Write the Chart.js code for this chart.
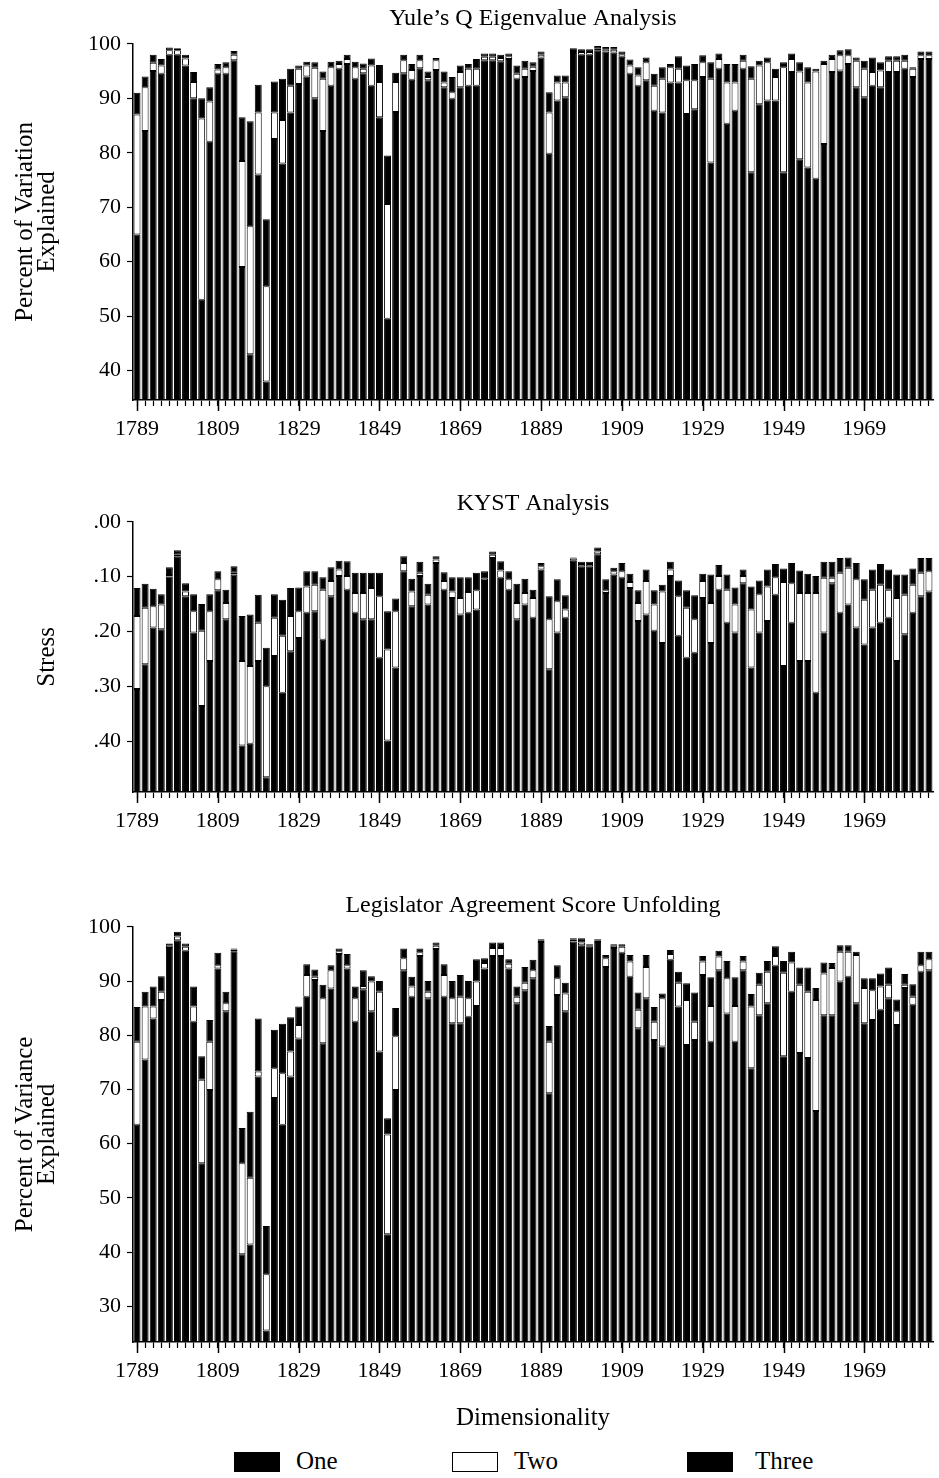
<!DOCTYPE html>
<html>
<head>
<meta charset="utf-8">
<title>Dimensionality by Congress</title>
<script src="https://cdn.jsdelivr.net/npm/chart.js@4.4.0/dist/chart.umd.min.js"></script>
<style>
  body { margin: 0; background: #fff; width: 939px; height: 1478px; position: relative; overflow: hidden;
         font-family: "Liberation Serif", serif; color: #000; }
  canvas { position: absolute; left: 0; }
  #yule { top: 0; }
  #kyst { top: 470px; }
  #las  { top: 880px; }
  .key { position: absolute; top: 1452px; width: 46px; height: 20px; box-sizing: border-box; }
  .lbl { position: absolute; top: 1446px; font-size: 25px; line-height: 30px; }
</style>
</head>
<body>
<canvas id="yule" width="939" height="450"></canvas>
<canvas id="kyst" width="939" height="372"></canvas>
<canvas id="las" width="939" height="560"></canvas>

<div class="key" style="left:234px;background:#000"></div>
<div class="lbl" style="left:296px">One</div>
<div class="key" style="left:452px;background:#fff;border:1.5px solid #000"></div>
<div class="lbl" style="left:514px">Two</div>
<div class="key" style="left:687px;background:#000"></div>
<div class="lbl" style="left:755px">Three</div>

<script>
// congresses, first year of each
const years = [
  1789, 1791, 1793, 1795, 1797, 1799, 1801, 1803, 1805, 1807,
  1809, 1811, 1813, 1815, 1817, 1819, 1821, 1823, 1825, 1827,
  1829, 1831, 1833, 1835, 1837, 1839, 1841, 1843, 1845, 1847,
  1849, 1851, 1853, 1855, 1857, 1859, 1861, 1863, 1865, 1867,
  1869, 1871, 1873, 1875, 1877, 1879, 1881, 1883, 1885, 1887,
  1889, 1891, 1893, 1895, 1897, 1899, 1901, 1903, 1905, 1907,
  1909, 1911, 1913, 1915, 1917, 1919, 1921, 1923, 1925, 1927,
  1929, 1931, 1933, 1935, 1937, 1939, 1941, 1943, 1945, 1947,
  1949, 1951, 1953, 1955, 1957, 1959, 1961, 1963, 1965, 1967,
  1969, 1971, 1973, 1975, 1977, 1979, 1981, 1983, 1985
];
const yearLabels = [1789, 1809, 1829, 1849, 1869, 1889, 1909, 1929, 1949, 1969];

// Yule's Q eigenvalue analysis, % of variation explained (cumulative)
const yuleOne = [
  65, 84, 95, 94.5, 98, 98, 96, 90, 53, 82,
  94.5, 94.5, 97, 59, 43, 76, 38, 82.5, 78, 87.4,
  92.6, 94, 90, 84, 92.3, 95.4, 96.3, 93.6, 94.6, 92.3,
  86.5, 49.5, 87.5, 94.6, 93.4, 95.5, 93.3, 95.2, 92, 89.9,
  92, 92.3, 92.3, 97, 97, 96.8, 97.2, 93.6, 93.9, 95,
  97.5, 79.8, 89.6, 90.2, 98.3, 98, 98, 98.8, 98.6, 98.4,
  97.6, 94.5, 92.3, 93.3, 87.7, 87.4, 92.9, 92.9, 87.1, 88,
  93.9, 78.2, 95.4, 85.3, 87.7, 95.4, 76.4, 88.9, 89.6, 89.6,
  76.4, 94.8, 78.8, 77.3, 75.2, 81.6, 94.8, 95.1, 96.3, 92,
  90.2, 92.3, 92, 94.8, 94.8, 95.4, 93.9, 97.2, 97.2
];
const yuleTwo = [
  87, 92, 96.5, 96, 98.8, 98.8, 97.3, 93, 86.3, 89.4,
  95.3, 95.7, 98, 78.5, 66.5, 87.4, 55.5, 87.4, 86, 92.3,
  95.4, 96, 95.6, 93.6, 95.7, 96.3, 97.2, 95.7, 95.4, 96,
  93, 70.6, 93, 97, 95.2, 97, 93.9, 97, 92.9, 91.1,
  94.8, 95.4, 95.4, 97.6, 97.6, 97.4, 97.7, 94.5, 95.4, 95.8,
  98, 87.4, 92.9, 92.9, 98.7, 98.5, 98.5, 99.2, 99, 98.9,
  98.1, 96, 94.2, 96.6, 92.3, 93.6, 95.7, 95.4, 93.3, 93.3,
  96.6, 93.6, 97.2, 92.9, 92.9, 96.9, 93.6, 96, 96.6, 93.9,
  95.7, 97.2, 94.9, 92.9, 94.9, 96.3, 97.2, 97.9, 97.9, 96.9,
  95.4, 94.8, 95.1, 96.9, 96.9, 96.9, 95.4, 97.9, 97.9
];
const yuleThree = [
  91, 94, 98, 97.2, 99.3, 99.2, 98, 94.8, 90, 92,
  96.3, 96.6, 98.7, 86.5, 85.8, 92.5, 67.8, 93.1, 93.6, 95.4,
  96, 96.7, 96.6, 94.9, 96.7, 96.9, 98, 96.7, 96.4, 97.3,
  96.1, 79.5, 94.7, 98, 96.3, 98, 94.9, 97.4, 94.9, 93.9,
  96, 96.3, 97.2, 98.2, 98.2, 98, 98.2, 96, 96.9, 96.6,
  98.6, 91.1, 94.2, 94.2, 99.2, 99, 99, 99.6, 99.4, 99.4,
  98.6, 97.1, 95.7, 97.5, 94.5, 95.7, 96.3, 97.7, 96, 96.3,
  97.9, 96.6, 98.2, 96.3, 96.3, 98, 95.9, 96.9, 97.5, 95.4,
  96.6, 98.2, 96.6, 95.7, 95.4, 96.9, 98, 98.8, 99, 97.5,
  96.9, 97.5, 96.6, 97.7, 97.7, 98, 95.7, 98.6, 98.6
];
const yuleTicks = [40, 50, 60, 70, 80, 90, 100];

// KYST analysis, stress
const kystOne = [
  .305, .26, .193, .196, .10, .063, .136, .202, .336, .254,
  .125, .178, .096, .408, .405, .254, .466, .245, .312, .236,
  .212, .166, .163, .215, .136, .099, .124, .166, .178, .178,
  .248, .399, .266, .09, .154, .099, .151, .075, .124, .139,
  .169, .166, .16, .108, .066, .102, .124, .178, .151, .175,
  .087, .269, .202, .175, .071, .081, .081, .059, .13, .096,
  .102, .121, .181, .169, .199, .221, .099, .208, .248, .239,
  .139, .221, .124, .184, .202, .112, .266, .202, .181, .133,
  .263, .184, .254, .254, .312, .202, .112, .166, .151, .193,
  .224, .193, .184, .175, .254, .205, .166, .136, .127
];
const kystTwo = [
  .172, .157, .154, .151, .097, .06, .127, .163, .199, .163,
  .105, .148, .093, .254, .263, .184, .30, .175, .208, .172,
  .163, .118, .115, .124, .108, .087, .099, .13, .13, .121,
  .136, .233, .163, .075, .127, .093, .133, .069, .108, .127,
  .139, .128, .125, .104, .06, .089, .105, .148, .13, .139,
  .081, .178, .145, .16, .067, .077, .077, .054, .125, .09,
  .09, .11, .148, .108, .151, .127, .087, .136, .157, .178,
  .108, .148, .099, .124, .151, .099, .16, .132, .118, .101,
  .11, .112, .13, .13, .13, .102, .102, .093, .084, .105,
  .142, .124, .115, .124, .139, .133, .115, .093, .09
];
const kystThree = [
  .121, .113, .122, .132, .083, .052, .112, .132, .15, .132,
  .09, .124, .081, .172, .169, .133, .23, .132, .142, .121,
  .12, .09, .09, .101, .083, .071, .072, .093, .093, .093,
  .093, .163, .14, .063, .104, .073, .113, .063, .092, .101,
  .101, .101, .093, .09, .054, .072, .09, .113, .104, .124,
  .075, .136, .105, .134, .065, .073, .073, .047, .105, .084,
  .075, .095, .125, .087, .125, .115, .073, .107, .125, .134,
  .095, .096, .079, .096, .12, .087, .118, .107, .087, .077,
  .085, .075, .089, .095, .099, .073, .073, .066, .065, .075,
  .105, .087, .077, .087, .096, .096, .085, .066, .066
];
const kystTicks = [0, .1, .2, .3, .4];

// Legislator agreement score unfolding, % of variance explained
const lasOne = [
  63.5, 75.5, 83.1, 86.5, 96.1, 97.5, 95.6, 82.5, 56.4, 69.9,
  92.3, 84.4, 95.5, 39.6, 41.4, 72.4, 25.5, 68.4, 63.5, 72.4,
  79.4, 87.1, 90.2, 78.5, 88.6, 95, 92.3, 82.5, 88.5, 84.4,
  77, 43.3, 69.9, 92, 87.1, 94.6, 86.8, 95.9, 87.1, 82.2,
  82.2, 83.4, 85.4, 92.3, 94.6, 94.6, 92.3, 85.9, 88.3, 90.5,
  97.2, 69.3, 87.4, 84.4, 97.3, 96.6, 96.3, 97.2, 92.6, 96.1,
  95.2, 90.8, 81.3, 86.8, 79.1, 77.9, 93.9, 85.3, 78.2, 79.1,
  91.1, 78.8, 92, 84, 78.8, 92, 73.9, 83.7, 85.9, 92.8,
  76.1, 88, 76.7, 75.8, 66, 83.7, 83.7, 89.9, 90.8, 85.9,
  82.2, 82.8, 84.7, 86.8, 81.9, 88.7, 85.6, 91.7, 92
];
const lasTwo = [
  78.8, 85.3, 85.3, 88, 96.5, 98.2, 96.3, 85.3, 71.8, 78.8,
  92.9, 85.9, 95.8, 56.4, 53.7, 73.3, 35.9, 73.9, 73, 77,
  81.9, 91.1, 90.8, 86.8, 92, 95.5, 92.9, 86.8, 89.1, 89.9,
  88, 61.7, 79.8, 94.2, 89, 95.3, 88, 96.5, 91.1, 86.8,
  87.1, 86.8, 89.9, 93.3, 96.1, 96.1, 93.2, 87.1, 89.7, 92,
  97.5, 78.8, 90.5, 87.7, 97.6, 97.1, 96.6, 97.5, 94.2, 96.5,
  96.3, 93.6, 84.7, 92.6, 82.5, 86.8, 95, 89.7, 86.5, 82.5,
  93.6, 85.4, 94.5, 90.5, 85.4, 93.6, 85.3, 89.3, 91.7, 94.6,
  91.5, 93.4, 89.3, 88, 86.5, 91.4, 92.4, 95.4, 95.4, 94.8,
  88.7, 88.3, 89, 89.3, 84.4, 89.3, 87.1, 92.9, 94
];
const lasThree = [
  85.2, 88, 89, 90.9, 96.9, 99.1, 96.9, 89, 76.1, 82.8,
  95.2, 88, 96, 62.9, 65.9, 83.1, 44.8, 81, 82.1, 83.3,
  85.3, 93.1, 92.1, 89.3, 92.9, 96, 95, 89, 92, 90.9,
  90, 64.7, 85, 96, 90.8, 96, 90, 97.1, 93.1, 90,
  91.1, 90, 94, 94.2, 97.1, 97.1, 94, 89, 92.6, 93.9,
  97.7, 81.7, 92.9, 89.7, 97.9, 97.9, 96.8, 97.7, 94.8, 96.8,
  96.8, 94.8, 87.9, 94.8, 85.2, 87.7, 95.7, 91.7, 89.6, 87.9,
  94.6, 90.7, 95.6, 93.7, 90.7, 94.6, 87.6, 91.5, 93.7, 96.4,
  93.7, 95.4, 92.5, 92.5, 88.7, 93.4, 93.3, 96.6, 96.6, 95.4,
  90.5, 90.5, 91.4, 92.5, 86.6, 91.3, 89.4, 95.4, 95.4
];
const lasTicks = [30, 40, 50, 60, 70, 80, 90, 100];

const SERIF = "'Liberation Serif', 'Times New Roman', serif";

// longer tick marks under the labelled years
const majorTicks = {
  id: "majorTicks",
  afterDraw(chart) {
    const x = chart.scales.x;
    const c = chart.ctx;
    c.save();
    c.strokeStyle = "#000";
    c.lineWidth = 1.5;
    yearLabels.forEach((yr) => {
      const px = Math.round(x.getPixelForValue(yr)) + 0.5;
      c.beginPath();
      c.moveTo(px, x.top);
      c.lineTo(px, x.top + 11);
      c.stroke();
    });
    c.restore();
  }
};

function segment(label, lo, hi, color, base) {
  return {
    label,
    grouped: false,
    data: years.map((yr, i) => ({ x: yr, y: [lo ? lo[i] : base, hi[i]] })),
    backgroundColor: color,
    borderColor: "#000",
    borderWidth: 1,
    borderSkipped: false,
    barPercentage: 0.86,
    categoryPercentage: 1
  };
}

function makePanel(id, opt) {
  return new Chart(document.getElementById(id), {
    type: "bar",
    data: {
      datasets: [
        segment("One", null, opt.one, "#000", opt.base),
        segment("Two", opt.one, opt.two, "#fff"),
        segment("Three", opt.two, opt.three, "#000")
      ]
    },
    options: {
      responsive: false,
      animation: false,
      layout: { padding: { left: 0, right: 1, top: 0, bottom: 0 } },
      plugins: {
        legend: { display: false },
        tooltip: { enabled: false },
        title: {
          display: true,
          text: opt.title,
          fullSize: false,
          color: "#000",
          font: { family: SERIF, size: 24, weight: "normal" },
          padding: opt.titlePad
        }
      },
      scales: {
        x: {
          type: "linear",
          min: 1788,
          max: 1986,
          offset: false,
          afterFit: (s) => { s.height = opt.xHeight; },
          afterBuildTicks: (s) => { s.ticks = years.map((v) => ({ value: v })); },
          grid: { display: true, drawOnChartArea: false, offset: false, tickLength: 6, tickWidth: 1.2, tickColor: "#000" },
          border: { display: true, color: "#000", width: 1.5 },
          ticks: {
            autoSkip: false,
            maxRotation: 0,
            padding: 10,
            color: "#000",
            font: { family: SERIF, size: 22 },
            callback: (v) => (yearLabels.includes(v) ? String(v) : "")
          },
          title: opt.xTitle
            ? { display: true, text: opt.xTitle, color: "#000", font: { family: SERIF, size: 25 }, padding: { top: 0, bottom: 7 } }
            : { display: false }
        },
        y: {
          min: opt.min,
          max: opt.max,
          reverse: !!opt.reverse,
          afterFit: (s) => { s.width = 133; },
          afterBuildTicks: (s) => { s.ticks = opt.ticks.map((v) => ({ value: v })); },
          grid: { display: true, drawOnChartArea: false, tickLength: 6, tickWidth: 1.2, tickColor: "#000" },
          border: { display: true, color: "#000", width: 1.5 },
          ticks: {
            padding: 6,
            color: "#000",
            font: { family: SERIF, size: 22 },
            callback: opt.fmt
          },
          title: {
            display: true,
            text: opt.yTitle,
            color: "#000",
            font: { family: SERIF, size: 25, lineHeight: 0.88 },
            padding: { top: opt.yTitlePad, bottom: 0 }
          }
        }
      }
    },
    plugins: [majorTicks]
  });
}

makePanel("yule", {
  title: "Yule\u2019s Q Eigenvalue Analysis",
  titlePad: { top: 4, bottom: 11 },
  one: yuleOne, two: yuleTwo, three: yuleThree,
  base: 34.6, min: 34.6, max: 100,
  ticks: yuleTicks, fmt: (v) => String(v),
  yTitle: ["Percent of Variation", "Explained"], yTitlePad: 14,
  xHeight: 50
});

makePanel("kyst", {
  title: "KYST Analysis",
  titlePad: { top: 19, bottom: 4 },
  one: kystOne, two: kystTwo, three: kystThree,
  base: 0.493, min: 0, max: 0.493, reverse: true,
  ticks: kystTicks, fmt: (v) => v.toFixed(2).slice(1),
  yTitle: "Stress", yTitlePad: 36,
  xHeight: 50
});

makePanel("las", {
  title: "Legislator Agreement Score Unfolding",
  titlePad: { top: 11, bottom: 7 },
  one: lasOne, two: lasTwo, three: lasThree,
  base: 23.4, min: 23.4, max: 100,
  ticks: lasTicks, fmt: (v) => String(v),
  yTitle: ["Percent of Variance", "Explained"], yTitlePad: 14,
  xTitle: "Dimensionality",
  xHeight: 98
});
</script>
</body>
</html>
